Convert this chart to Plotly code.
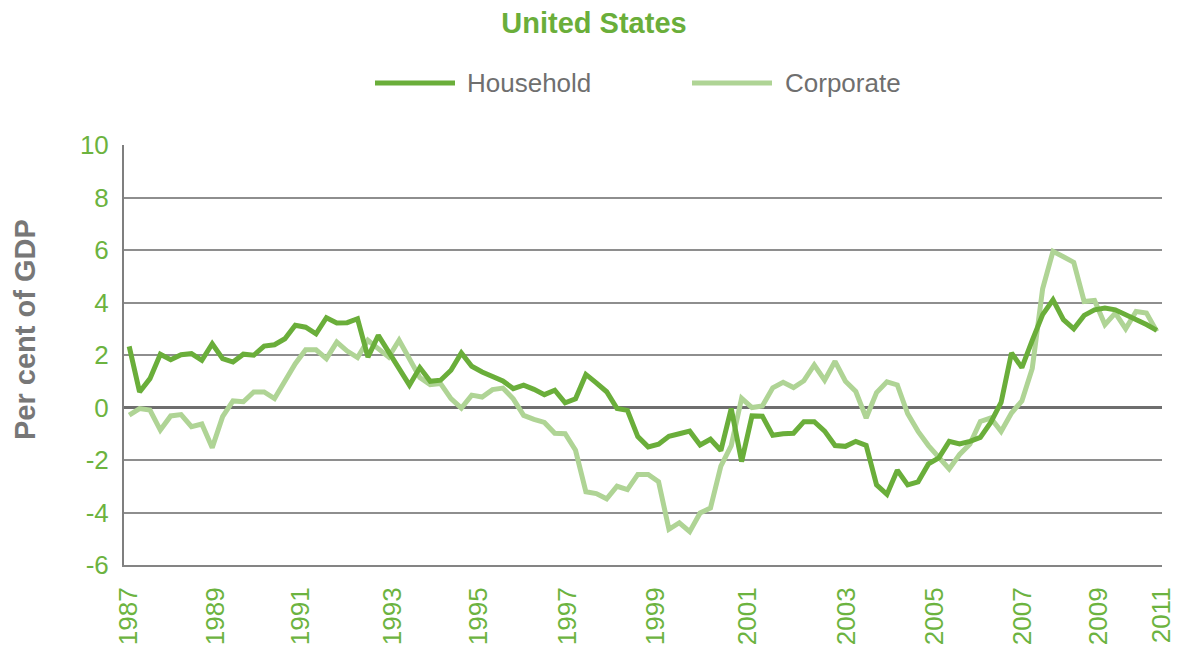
import plotly.graph_objects as go

# ---- data (quarterly, 1987Q1 - 2011Q4), per cent of GDP ----
quarters = [f"{y}Q{q}" for y in range(1987, 2012) for q in range(1, 5)]

household = [
    2.33, 0.59, 1.10, 2.03, 1.82, 2.01, 2.05, 1.80, 2.43, 1.86,
    1.73, 2.03, 1.99, 2.34, 2.39, 2.62, 3.13, 3.06, 2.81, 3.42,
    3.22, 3.23, 3.38, 1.92, 2.75, 2.11, 1.48, 0.85, 1.52, 1.00,
    1.04, 1.42, 2.08, 1.57, 1.35, 1.18, 1.01, 0.72, 0.85, 0.69,
    0.49, 0.66, 0.18, 0.33, 1.26, 0.94, 0.60, -0.04, -0.11, -1.11,
    -1.50, -1.40, -1.10, -1.00, -0.90, -1.43, -1.21, -1.64, -0.04, -2.06,
    -0.32, -0.33, -1.06, -1.00, -0.98, -0.54, -0.54, -0.90, -1.45, -1.48,
    -1.29, -1.44, -2.95, -3.31, -2.39, -2.95, -2.83, -2.15, -1.92, -1.29,
    -1.39, -1.29, -1.14, -0.57, 0.19, 2.08, 1.52, 2.56, 3.54, 4.10,
    3.35, 3.00, 3.51, 3.72, 3.79, 3.72, 3.55, 3.35, 3.16, 2.94,
]

corporate = [
    -0.29, -0.04, -0.10, -0.86, -0.32, -0.27, -0.73, -0.63, -1.53, -0.35,
    0.25, 0.22, 0.59, 0.59, 0.34, 1.04, 1.67, 2.20, 2.20, 1.86,
    2.49, 2.15, 1.90, 2.56, 2.24, 1.92, 2.56, 1.86, 1.14, 0.87,
    0.91, 0.34, -0.02, 0.47, 0.40, 0.68, 0.74, 0.33, -0.30, -0.45,
    -0.57, -0.98, -1.00, -1.63, -3.21, -3.28, -3.48, -3.00, -3.13, -2.55,
    -2.55, -2.83, -4.64, -4.39, -4.73, -4.02, -3.83, -2.23, -1.45, 0.35,
    0.00, 0.06, 0.75, 0.96, 0.76, 1.02, 1.62, 1.04, 1.76, 1.00,
    0.61, -0.40, 0.57, 0.98, 0.86, -0.24, -0.91, -1.45, -1.88, -2.34,
    -1.79, -1.39, -0.53, -0.40, -0.91, -0.21, 0.25, 1.49, 4.52, 5.95,
    5.74, 5.53, 4.04, 4.08, 3.16, 3.60, 3.00, 3.66, 3.60, 2.90,
]

tick_labels = ["1987", "1989", "1991", "1993", "1995", "1997", "1999",
               "2001", "2003", "2005", "2007", "2009", "2011"]
# label positions along the (fractional-year) axis, as placed in the original
tick_pos = [1987.10, 1989.20, 1991.25, 1993.48, 1995.54, 1997.69, 1999.81,
            2002.03, 2004.41, 2006.51, 2008.63, 2010.48, 2011.99]

y_tick_vals = [-6, -4, -2, 0, 2, 4, 6, 8, 10]
y_tick_text = ["-6", "-4", "-2", "0", "2", "4", "6", "8", "10"]

series_names = ["Household", "Corporate"]

# ---- styling ----
DARK = "#6aae3a"
LIGHT = "#afd495"
TICK_GREEN = "#6cb33f"
GREY_TEXT = "#6f6f6f"
FONT = "Liberation Sans, Arial, sans-serif"

# page body has an 8px default margin; compensate so the plot sits where it should
OFF = 8
W, H = 1188, 648
PL, PR, PT, PB = 124, 1162, 145, 565   # plot area in window pixels

# quarter -> mid-quarter fractional year
x = [int(s[:4]) + (int(s[-1]) - 0.5) / 4 for s in quarters]

fig = go.Figure()
fig.add_trace(go.Scatter(x=x, y=corporate, mode="lines", name=series_names[1],
                         line=dict(color=LIGHT, width=5), showlegend=False))
fig.add_trace(go.Scatter(x=x, y=household, mode="lines", name=series_names[0],
                         line=dict(color=DARK, width=5), showlegend=False))

fig.update_layout(
    width=W, height=H,
    margin=dict(l=PL - OFF, r=W - (PR - OFF), t=PT - OFF, b=H - (PB - OFF)),
    paper_bgcolor="white", plot_bgcolor="white",
    font=dict(family=FONT),
    title=dict(text="<b>United States</b>", x=(594 - OFF) / W, xref="container",
               xanchor="center", y=1 - (23 - OFF) / H, yref="container",
               yanchor="middle", font=dict(size=29, color=DARK, family=FONT)),
)

fig.update_xaxes(
    range=[1987, 2012], tickmode="array", tickvals=tick_pos, ticktext=tick_labels,
    tickangle=-90, tickfont=dict(size=26, color=TICK_GREEN, family=FONT),
    showgrid=False, zeroline=False, showline=True, linecolor="#848484",
    linewidth=2, ticks="", ticklabelstandoff=10, automargin=False,
)
fig.update_yaxes(
    range=[-6, 10], tickmode="array", tickvals=y_tick_vals, ticktext=y_tick_text,
    tickfont=dict(size=26, color=TICK_GREEN, family=FONT),
    showgrid=True, gridcolor="#8e8e8e", gridwidth=1.5,
    zeroline=True, zerolinecolor="#6e6e6e", zerolinewidth=2.5,
    showline=True, linecolor="#7f7f7f", linewidth=2, ticks="",
    ticklabelstandoff=8, automargin=False,
)

pw, ph = PR - PL, PB - PT

# y-axis title
fig.add_annotation(text="<b>Per cent of GDP</b>", xref="paper", yref="paper",
                   x=(25 - PL) / pw, y=(PB - 330) / ph, textangle=-90,
                   showarrow=False, xanchor="center", yanchor="middle",
                   font=dict(size=29, color="#777777", family=FONT))

# custom legend (long line samples)
legend_items = [(series_names[0], DARK, 375, 455, 465),
                (series_names[1], LIGHT, 692, 772, 783)]
ly = (PB - 83) / ph
for name, col, x0, x1, xt in legend_items:
    fig.add_shape(type="line", xref="paper", yref="paper",
                  x0=(x0 - PL) / pw, x1=(x1 - PL) / pw, y0=ly, y1=ly,
                  line=dict(color=col, width=5))
    fig.add_annotation(text=name, xref="paper", yref="paper",
                       x=(xt - PL) / pw, y=ly, showarrow=False,
                       xanchor="left", yanchor="middle",
                       font=dict(size=26, color=GREY_TEXT, family=FONT))

fig.write_html("out.html")
